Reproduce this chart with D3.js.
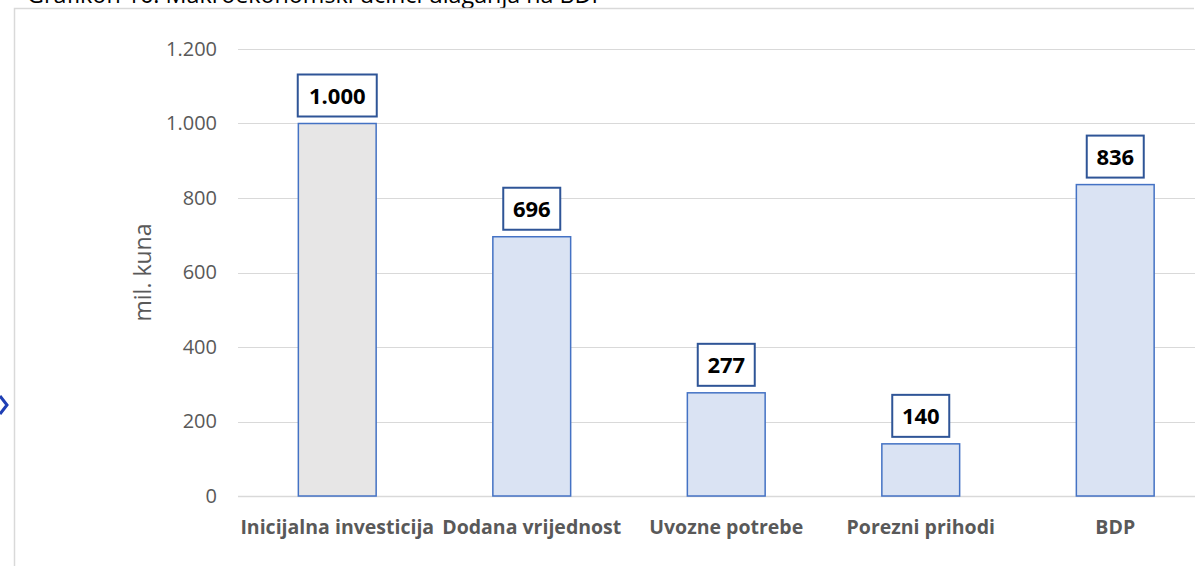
<html>
<head>
<meta charset="utf-8">
<script src="https://d3js.org/d3.v7.min.js"></script>
<style>
  body { margin: 0; background: #fff; }
  text { font-family: "Open Sans", Lato, sans-serif; }
</style>
</head>
<body>
<svg width="1195" height="566" id="chart"></svg>
<script>
var categories = ["Inicijalna investicija", "Dodana vrijednost", "Uvozne potrebe", "Porezni prihodi", "BDP"];
var values = [1000, 696, 277, 140, 836];
var valueLabels = ["1.000", "696", "277", "140", "836"];
var yTicks = [0, 200, 400, 600, 800, 1000, 1200];
var yTickLabels = ["0", "200", "400", "600", "800", "1.000", "1.200"];

var svg = d3.select("#chart");

var x = d3.scaleBand().domain(categories).range([240, 1212.5]).paddingInner(0.6).paddingOuter(0.3);
var y = d3.scaleLinear().domain([0, 1200]).range([496, 49]);

// title, cut off at the top like the source page
svg.append("text")
  .attr("x", 27).attr("y", 3)
  .style("font-size", "23.3px")
  .style("fill", "#000")
  .text("Grafikon 16: Makroekonomski učinci ulaganja na BDP");

// chart frame
svg.append("path")
  .attr("d", "M14.5,566 V8.5 H1194")
  .attr("fill", "none")
  .attr("stroke", "#d9d9d9")
  .attr("stroke-width", 1.5);

// little arrow on the left margin
svg.append("path")
  .attr("d", "M0,396 L7,405 L0,414")
  .attr("fill", "none")
  .attr("stroke", "#1f3fb4")
  .attr("stroke-width", 3);

// gridlines
svg.append("g").selectAll("line")
  .data(yTicks)
  .enter().append("line")
  .attr("x1", 238).attr("x2", 1195)
  .attr("y1", function(d) { return Math.round(y(d)) + 0.5; })
  .attr("y2", function(d) { return Math.round(y(d)) + 0.5; })
  .attr("stroke", "#d9d9d9")
  .attr("stroke-width", function(d) { return d === 0 ? 1.5 : 1; });

// y axis via d3 axis, styled to look like Excel
var yAxis = svg.append("g")
  .attr("transform", "translate(217,0)")
  .call(d3.axisLeft(y).tickValues(yTicks).tickSize(0).tickPadding(0)
    .tickFormat(function(d, i) { return yTickLabels[i]; }));
yAxis.select(".domain").remove();
yAxis.selectAll("text")
  .style("font-family", "'Open Sans', Lato, sans-serif")
  .style("font-size", "20px")
  .style("fill", "#595959");

// y title
svg.append("text")
  .attr("transform", "translate(151," + y(600) + ") rotate(-90)")
  .style("text-anchor", "middle")
  .style("font-size", "23px")
  .style("fill", "#595959")
  .text("mil. kuna");

// bars
svg.append("g").selectAll("rect")
  .data(values)
  .enter().append("rect")
  .attr("x", function(d, i) { return x(categories[i]); })
  .attr("y", function(d) { return y(d); })
  .attr("width", x.bandwidth())
  .attr("height", function(d) { return y(0) - y(d); })
  .attr("fill", function(d, i) { return i === 0 ? "#e7e6e6" : "#dae3f3"; })
  .attr("stroke", "#4472c4")
  .attr("stroke-width", 1.5);

// x category labels
var xAxis = svg.append("g")
  .attr("transform", "translate(0,496)")
  .call(d3.axisBottom(x).tickSize(0).tickPadding(0));
xAxis.select(".domain").remove();
xAxis.selectAll("text")
  .attr("dy", "0")
  .attr("y", 38)
  .style("font-family", "'Open Sans', Lato, sans-serif")
  .style("font-size", "19.5px")
  .style("font-weight", "bold")
  .style("fill", "#595959");

// value label boxes
var lab = svg.append("g").selectAll("g")
  .data(values)
  .enter().append("g")
  .attr("transform", function(d, i) {
    return "translate(" + (x(categories[i]) + x.bandwidth() / 2) + "," + (y(d) - 7) + ")";
  });

lab.each(function(d, i) {
  var g = d3.select(this);
  var w = valueLabels[i].length > 3 ? 79 : 57;
  g.append("rect")
    .attr("x", -w / 2).attr("y", -42)
    .attr("width", w).attr("height", 42)
    .attr("fill", "#fff")
    .attr("stroke", "#2f5597")
    .attr("stroke-width", 2);
  g.append("text")
    .attr("y", -13)
    .style("text-anchor", "middle")
    .style("font-size", "22px")
    .style("font-weight", "bold")
    .style("fill", "#000")
    .text(valueLabels[i]);
});
</script>
</body>
</html>
